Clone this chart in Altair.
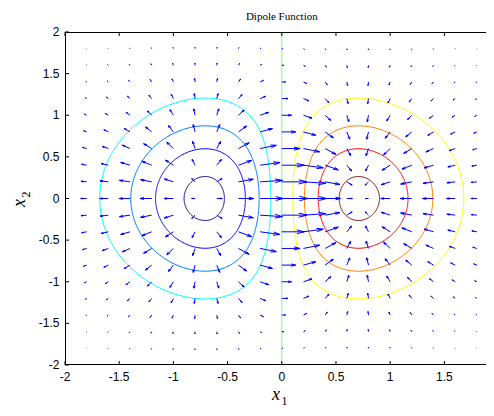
import numpy as np
import pandas as pd
import altair as alt

# ---- data -----------------------------------------------------------
title_text = "Dipole Function"
# quiver grid (meshgrid(-2:.2:2))
grid = [-2.0, -1.8, -1.6, -1.4, -1.2, -1.0, -0.8, -0.6, -0.4, -0.2, 0.0,
        0.2, 0.4, 0.6, 0.8, 1.0, 1.2, 1.4, 1.6, 1.8, 2.0]
spacing = 0.2
# contour levels and their colours (jet colormap)
levels = [-0.4, -0.3, -0.2, -0.1, 0.0, 0.1, 0.2, 0.3, 0.4]
level_colors = ["#000080", "#0000FF", "#0080FF", "#00FFFF", "#80FF80",
                "#FFFF00", "#FF8000", "#FF0000", "#800000"]
x_ticks = [-2, -1.5, -1, -0.5, 0, 0.5, 1, 1.5]
x_tick_labels = ["-2", "-1.5", "-1", "-0.5", "0", "0.5", "1", "1.5"]
y_ticks = [-2, -1.5, -1, -0.5, 0, 0.5, 1, 1.5, 2]
y_tick_labels = ["-2", "-1.5", "-1", "-0.5", "0", "0.5", "1", "1.5", "2"]
x_domain = [-2, 1.884]
y_domain = [-2, 2]


def dipole(x, y):
    return x * np.exp(-x ** 2 - y ** 2)


# ---- quiver (gradient of the dipole) --------------------------------
g = np.array(grid)
X, Y = np.meshgrid(g, g)
Z = dipole(X, Y)
DY, DX = np.gradient(Z, spacing, spacing)
n = len(grid)
delx = (g.max() - g.min()) / n
dele = 2 * delx ** 2
maxlen = np.sqrt((DX ** 2 + DY ** 2) / dele).max()
sc = 0.9 / maxlen
U = DX * sc
V = DY * sc
alpha, beta = 0.33, 0.33
segs = []
for x0, y0, u, v in zip(X.ravel(), Y.ravel(), U.ravel(), V.ravel()):
    tx, ty = x0 + u, y0 + v
    segs.append((x0, y0, tx, ty))
    segs.append((tx - alpha * (u + beta * v), ty - alpha * (v - beta * u), tx, ty))
    segs.append((tx - alpha * (u - beta * v), ty - alpha * (v + beta * u), tx, ty))
quiver_df = pd.DataFrame(segs, columns=["xa", "ya", "xb", "yb"])

# ---- contours -------------------------------------------------------
c = 1 / np.sqrt(2)
theta = np.linspace(0, 2 * np.pi, 241)
rows = []
for L in levels:
    name = f"{L:.1f}"
    if L == 0:
        rows.append((0.0, -2.0, name, 0))
        rows.append((0.0, 2.0, name, 1))
        continue
    s = 1 if L > 0 else -1
    a = abs(L)
    lo = np.zeros_like(theta)
    hi = np.full_like(theta, 2.5)
    for _ in range(60):
        mid = (lo + hi) / 2
        inside = dipole(c + mid * np.cos(theta), mid * np.sin(theta)) > a
        lo = np.where(inside, mid, lo)
        hi = np.where(inside, hi, mid)
    r = (lo + hi) / 2
    for i, (px, py) in enumerate(zip(s * (c + r * np.cos(theta)), r * np.sin(theta))):
        rows.append((px, py, name, i))
contour_df = pd.DataFrame(rows, columns=["x", "y", "level", "idx"])

xs_scale = alt.Scale(domain=x_domain, nice=False, zero=False)
ys_scale = alt.Scale(domain=y_domain, nice=False, zero=False)
W, H = 421, 333

contours = alt.Chart(contour_df).mark_line(strokeWidth=1, clip=True).encode(
    x=alt.X("x:Q", scale=xs_scale, axis=None),
    y=alt.Y("y:Q", scale=ys_scale, axis=None),
    color=alt.Color("level:N", scale=alt.Scale(domain=[f"{L:.1f}" for L in levels],
                                               range=level_colors), legend=None),
    detail="level:N",
    order="idx:Q",
)

quiver = alt.Chart(quiver_df).mark_rule(color="#0000FF", strokeWidth=1, clip=True).encode(
    x=alt.X("xa:Q", scale=xs_scale, axis=None),
    y=alt.Y("ya:Q", scale=ys_scale, axis=None),
    x2="xb:Q",
    y2="yb:Q",
)

xt = pd.DataFrame({"t": x_ticks, "lab": x_tick_labels})
yt = pd.DataFrame({"t": y_ticks, "lab": y_tick_labels})
top_ticks = alt.Chart(xt).mark_rule(color="black").encode(
    x=alt.X("t:Q", scale=xs_scale, axis=None), y=alt.value(0), y2=alt.value(4))
bot_ticks = alt.Chart(xt).mark_rule(color="black").encode(
    x=alt.X("t:Q", scale=xs_scale, axis=None), y=alt.value(H), y2=alt.value(H - 4))
left_ticks = alt.Chart(yt).mark_rule(color="black").encode(
    y=alt.Y("t:Q", scale=ys_scale, axis=None), x=alt.value(0), x2=alt.value(4))

x_labels = alt.Chart(xt).mark_text(font="Liberation Sans", fontSize=12, color="black",
                                   baseline="middle", align="center").encode(
    x=alt.X("t:Q", scale=xs_scale, axis=None), y=alt.value(H + 11.5), text="lab:N")
y_labels = alt.Chart(yt).mark_text(font="Liberation Sans", fontSize=12, color="black",
                                   baseline="middle", align="right").encode(
    y=alt.Y("t:Q", scale=ys_scale, axis=None), x=alt.value(-5.5), text="lab:N")

top_line = alt.Chart(xt).mark_rule(color="black").encode(
    x=alt.value(0), x2=alt.value(W), y=alt.value(0.5))
bot_line = alt.Chart(xt).mark_rule(color="black").encode(
    x=alt.value(0), x2=alt.value(W), y=alt.value(H - 0.5))
left_line = alt.Chart(xt).mark_rule(color="black").encode(
    x=alt.value(0.5), y=alt.value(0), y2=alt.value(H))

title_df = pd.DataFrame({"x": [0.0], "label": [title_text]})
title = alt.Chart(title_df).mark_text(font="Liberation Serif", fontSize=11,
                                      baseline="alphabetic", color="black").encode(
    x=alt.X("x:Q", scale=xs_scale, axis=None), y=alt.value(-12), text="label:N")

lab_df = pd.DataFrame({"a": [0]})
x1_x = alt.Chart(lab_df).mark_text(text="x", font="Liberation Serif", fontStyle="italic",
                                   fontSize=18, baseline="alphabetic").encode(
    x=alt.value(211), y=alt.value(368))
x1_s = alt.Chart(lab_df).mark_text(text="1", font="Liberation Serif",
                                   fontSize=12, baseline="alphabetic").encode(
    x=alt.value(219.5), y=alt.value(372.5))
x2_x = alt.Chart(lab_df).mark_text(text="x", font="Liberation Serif", fontStyle="italic",
                                   fontSize=18, baseline="alphabetic", angle=270).encode(
    x=alt.value(-40.5), y=alt.value(171))
x2_s = alt.Chart(lab_df).mark_text(text="2", font="Liberation Serif",
                                   fontSize=12, baseline="alphabetic", angle=270).encode(
    x=alt.value(-35.5), y=alt.value(162.5))

chart = alt.layer(
    contours, quiver, top_ticks, bot_ticks, left_ticks, x_labels, y_labels,
    top_line, bot_line, left_line, title, x1_x, x1_s, x2_x, x2_s,
).properties(
    width=W, height=H,
    autosize=alt.AutoSizeParams(type="none"),
    padding={"left": 57, "top": 24, "right": 0, "bottom": 43},
    background="white",
).configure_view(stroke=None)

chart.save("out.html", embed_options={"renderer": "svg", "actions": False})
